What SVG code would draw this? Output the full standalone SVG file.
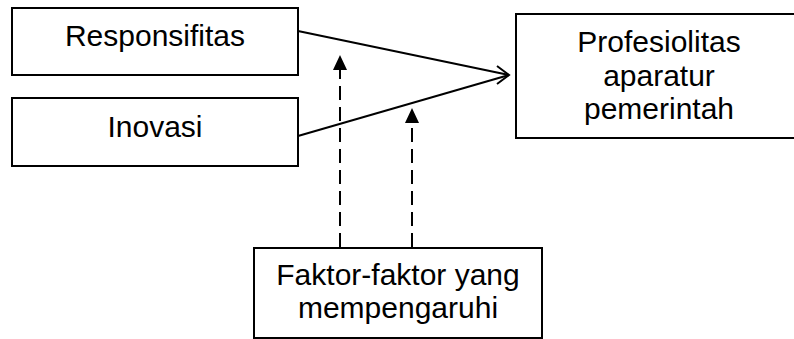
<svg xmlns="http://www.w3.org/2000/svg" width="794" height="339" viewBox="0 0 794 339">
<style>
.box{fill:#fff;stroke:#000;stroke-width:2}
.t{font-family:"Liberation Sans",Arial,sans-serif;font-size:30px;fill:#000;text-anchor:middle}
.ln{fill:none;stroke:#000;stroke-width:2}
.dash{fill:none;stroke:#000;stroke-width:2;stroke-dasharray:14 7}
</style>
<rect width="794" height="339" fill="#fff"/>
<g id="connectors">
<line class="ln" x1="298" y1="31" x2="509" y2="75"/>
<line class="ln" x1="298" y1="136" x2="509" y2="75"/>
<path d="M497,66 L509,75 L497,84" class="ln"/>
<line class="dash" x1="340" y1="247" x2="340" y2="68"/>
<polygon points="340,55 333,70 347,70" fill="#000"/>
<line class="dash" x1="412" y1="247" x2="412" y2="121"/>
<polygon points="412,108 405,123 419,123" fill="#000"/>
</g>
<g id="responsifitas">
<rect class="box" x="12" y="8" width="286" height="67"/>
<text class="t" x="155" y="46">Responsifitas</text>
</g>
<g id="inovasi">
<rect class="box" x="12" y="98" width="286" height="68"/>
<text class="t" x="155" y="137">Inovasi</text>
</g>
<g id="profesiolitas">
<rect class="box" x="516" y="14" width="290" height="124"/>
<text class="t" x="659" y="52">Profesiolitas</text>
<text class="t" x="659" y="86">aparatur</text>
<text class="t" x="659" y="119">pemerintah</text>
</g>
<g id="faktor">
<rect class="box" x="254" y="248" width="288" height="90"/>
<text class="t" x="398" y="285">Faktor-faktor yang</text>
<text class="t" x="398" y="318">mempengaruhi</text>
</g>
</svg>
